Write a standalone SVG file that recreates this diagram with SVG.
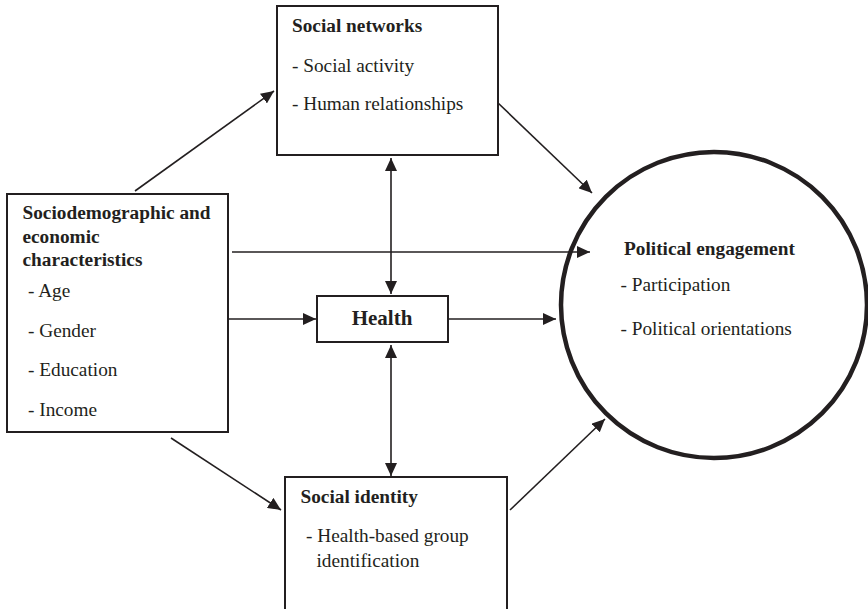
<svg xmlns="http://www.w3.org/2000/svg" width="868" height="609" viewBox="0 0 868 609">
<style>
.box{fill:#fff;stroke:#231f20;stroke-width:2}
.t{font-family:"Liberation Serif","Times New Roman",serif;font-size:19.3px;fill:#231f20}
.b{font-weight:bold}
.c line{stroke:#231f20;stroke-width:1.6}
</style>
<defs>
<marker id="ah" markerUnits="userSpaceOnUse" markerWidth="14" markerHeight="12" refX="13" refY="6" orient="auto-start-reverse">
<path d="M0,0 L13,6 L0,12 Z" fill="#231f20"/>
</marker>
</defs>
<rect width="868" height="609" fill="#fff"/>
<g id="connectors" class="c">
<line x1="135" y1="191" x2="274" y2="91" marker-end="url(#ah)"/>
<line x1="497" y1="102" x2="592" y2="193" marker-end="url(#ah)"/>
<line x1="391" y1="158" x2="391" y2="294" marker-start="url(#ah)" marker-end="url(#ah)"/>
<line x1="232" y1="252" x2="590" y2="252" marker-end="url(#ah)"/>
<line x1="228" y1="319" x2="316" y2="319" marker-end="url(#ah)"/>
<line x1="448" y1="319" x2="556" y2="319" marker-end="url(#ah)"/>
<line x1="391" y1="345" x2="391" y2="476" marker-start="url(#ah)" marker-end="url(#ah)"/>
<line x1="171" y1="438" x2="281" y2="510" marker-end="url(#ah)"/>
<line x1="510" y1="510" x2="605" y2="419" marker-end="url(#ah)"/>
</g>
<g id="social-networks">
<rect class="box" x="277" y="6" width="221" height="149"/>
<text class="t b" x="292" y="32">Social networks</text>
<text class="t" x="292" y="72">- Social activity</text>
<text class="t" x="292" y="110">- Human relationships</text>
</g>
<g id="sociodemographic">
<rect class="box" x="7" y="194" width="221" height="238"/>
<text class="t b" x="22.5" y="219">Sociodemographic and</text>
<text class="t b" x="22.5" y="243">economic</text>
<text class="t b" x="22.5" y="266">characteristics</text>
<text class="t" x="28" y="297">- Age</text>
<text class="t" x="28" y="337">- Gender</text>
<text class="t" x="28" y="376">- Education</text>
<text class="t" x="28" y="416">- Income</text>
</g>
<g id="health">
<rect class="box" x="317" y="296" width="131" height="46"/>
<text class="t b" x="382" y="325" text-anchor="middle" style="font-size:21px">Health</text>
</g>
<g id="social-identity">
<rect class="box" x="285" y="477" width="222" height="150"/>
<text class="t b" x="300.5" y="503">Social identity</text>
<text class="t" x="306" y="542">- Health-based group</text>
<text class="t" x="316.5" y="567">identification</text>
</g>
<g id="political-engagement">
<circle cx="714" cy="305" r="153" fill="none" stroke="#231f20" stroke-width="4.5"/>
<text class="t b" x="624" y="255">Political engagement</text>
<text class="t" x="620.5" y="291">- Participation</text>
<text class="t" x="620.5" y="335">- Political orientations</text>
</g>
</svg>
